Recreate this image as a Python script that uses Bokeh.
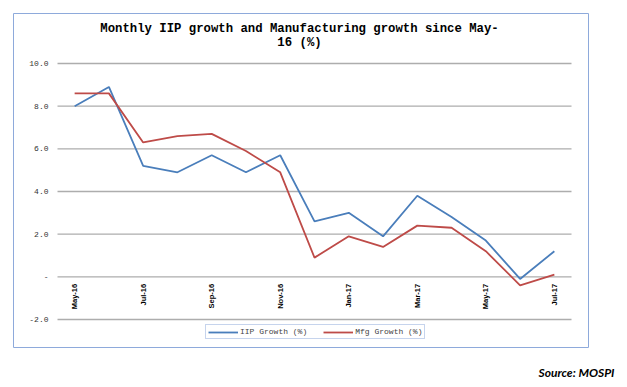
import numpy as np
from bokeh.plotting import figure
from bokeh.models import (Range1d, FixedTicker, Legend, LegendItem, Label, Title,
                          LinearAxis, ColumnDataSource)
from bokeh.embed import file_html
from bokeh.resources import INLINE

months = ["May-16", "Jun-16", "Jul-16", "Aug-16", "Sep-16", "Oct-16", "Nov-16",
          "Dec-16", "Jan-17", "Feb-17", "Mar-17", "Apr-17", "May-17", "Jun-17", "Jul-17"]
iip_growth = [8.0, 8.9, 5.2, 4.9, 5.7, 4.9, 5.7, 2.6, 3.0, 1.9, 3.8, 2.8, 1.7, -0.1, 1.2]
mfg_growth = [8.6, 8.6, 6.3, 6.6, 6.7, 5.9, 4.9, 0.9, 1.9, 1.4, 2.4, 2.3, 1.2, -0.4, 0.1]
y_ticks = [-2, 0, 2, 4, 6, 8, 10]
y_tick_labels = ["-2.0", "-", "2.0", "4.0", "6.0", "8.0", "10.0"]
title_lines = ["Monthly IIP growth and Manufacturing growth since May-", "16 (%)"]
series_names = ["IIP Growth (%)", "Mfg Growth (%)"]
source_note = "Source: MOSPI"

n = len(months)
idx = list(range(n))
src = ColumnDataSource(dict(x=idx, month=months, iip=iip_growth, mfg=mfg_growth))

# frame == chart-area box; data area sits inside it
PX_X = 514 / n          # pixels per month
PX_Y = 256 / 12         # pixels per unit
x_lo = -0.5 - 44 / PX_X
x_hi = n - 0.5 + 17 / PX_X
y_lo = y_ticks[0] - 28 / PX_Y
y_hi = y_ticks[-1] + 50 / PX_Y

p = figure(width=619, height=383, x_range=Range1d(x_lo, x_hi), y_range=Range1d(y_lo, y_hi),
           output_backend="svg", toolbar_location=None,
           x_axis_location=None, y_axis_location=None,
           min_border_left=13, min_border_right=31, min_border_top=13, min_border_bottom=36)
p.outline_line_color = "#8EAADB"
p.outline_line_width = 1
p.background_fill_color = "white"
p.border_fill_color = "white"
p.xgrid.visible = False
p.ygrid.visible = False

# horizontal gridlines spanning the category area
p.segment(x0=[-0.5] * len(y_ticks), x1=[n - 0.5] * len(y_ticks), y0=y_ticks, y1=y_ticks,
          line_color="#ADADAD", line_width=1.4)

r1 = p.line("x", "iip", source=src, line_color="#4A7EBB", line_width=1.8)
r2 = p.line("x", "mfg", source=src, line_color="#BE4B48", line_width=1.8)

# y axis
yax = LinearAxis(fixed_location=-0.5)
yax.ticker = FixedTicker(ticks=y_ticks)
yax.major_label_overrides = {t: l for t, l in zip(y_ticks, y_tick_labels)}
yax.axis_line_color = None
yax.major_tick_line_color = None
yax.minor_tick_line_color = None
yax.major_tick_out = 0
yax.major_tick_in = 0
yax.major_label_standoff = 9
yax.major_label_text_font = "Liberation Mono"
yax.major_label_text_font_size = "8px"
yax.major_label_text_color = "#333333"
p.add_layout(yax, "left")

# x axis at zero, every other month labelled
xax = LinearAxis(fixed_location=0)
xax.ticker = FixedTicker(ticks=idx[::2])
xax.major_label_overrides = {i: months[i] for i in idx[::2]}
xax.axis_line_color = None
xax.major_tick_line_color = None
xax.minor_tick_line_color = None
xax.major_tick_out = 0
xax.major_tick_in = 0
xax.major_label_orientation = np.pi / 2
xax.major_label_standoff = 7
xax.major_label_text_font = "Liberation Sans Narrow, Liberation Sans"
xax.major_label_text_font_style = "bold"
xax.major_label_text_font_size = "7.5px"
xax.major_label_text_color = "black"
p.add_layout(xax, "below")

# title (two lines, centred on the chart area)
for i, line in enumerate(title_lines):
    p.add_layout(Label(x=286, y=319 - 14 * i, x_units="screen", y_units="screen",
                       text=line, text_align="center", text_baseline="middle",
                       text_font="Liberation Mono", text_font_style="bold",
                       text_font_size="12.3px", text_color="black"))

legend = Legend(items=[LegendItem(label=series_names[0], renderers=[r1]),
                       LegendItem(label=series_names[1], renderers=[r2])],
                orientation="horizontal", location=(192, 8))
legend.label_text_font = "Liberation Mono"
legend.label_text_font_size = "8px"
legend.label_height = 8
legend.glyph_height = 8
legend.glyph_width = 30
legend.label_standoff = 2
legend.spacing = 16
legend.padding = 2
legend.margin = 0
legend.border_line_color = "#8EAADB"
legend.border_line_width = 1
legend.background_fill_alpha = 1
p.add_layout(legend)

note = Title(text="\n" + source_note, align="right", offset=-26, standoff=0,
             text_font="Lato", text_font_style="bold italic", text_font_size="12px",
             text_line_height=1.0, text_color="black")
p.add_layout(note, "below")

open("out.html", "w").write(file_html(p, INLINE))
